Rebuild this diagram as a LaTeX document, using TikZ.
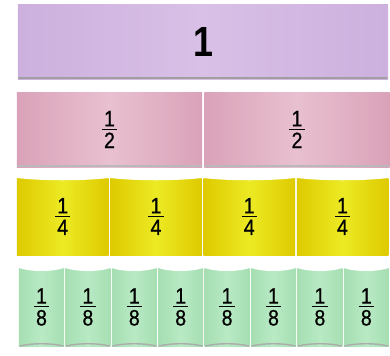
\documentclass[tikz,border=0pt]{standalone}
\usepackage{fontspec}
\usepackage{tikz}
\usetikzlibrary{calc}
\newfontfamily\numfont[FakeStretch=0.85]{Liberation Sans}
\newfontfamily\fracfont[FakeStretch=0.88, FakeBold=0.6]{Liberation Sans}
\definecolor{violetedge}{RGB}{204,176,222}
\definecolor{violetmid}{RGB}{216,192,230}
\definecolor{pinkedge}{RGB}{218,162,184}
\definecolor{pinkmid}{RGB}{232,192,208}
\definecolor{yellowedge}{RGB}{222,202,0}
\definecolor{yellowmid}{RGB}{236,234,36}
\definecolor{greenedge}{RGB}{166,222,178}
\definecolor{greenmid}{RGB}{184,234,196}
\newcommand{\frc}[2]{\vbox{\hbox to 0.46cm{\hss#1\hss}\kern2pt\hrule height 0.9pt\kern2.5pt\hbox to 0.46cm{\hss#2\hss}}}

\begin{document}
\begin{tikzpicture}[
    x=0.03cm, y=-0.03cm,
    cell/.style={inner sep=0pt, outer sep=0pt, shading=axis, text=black,
                 font=\fracfont\fontsize{19}{20}\selectfont},
    shadowline/.style={line width=1.2pt, draw=gray!75, line cap=round}
]
    \useasboundingbox (0,0) rectangle (390,355);

    % Whole strip
    \node[cell, left color=violetedge, right color=violetedge, middle color=violetmid,
          minimum width=11.1cm, minimum height=2.25cm,
          font=\numfont\bfseries\fontsize{36}{37}\selectfont] (whole) at (203,41.5) {1};
    \draw[shadowline] ($(whole.south west)+(1,-1)$) -- ($(whole.south east)+(-1,-1)$);

    % Halves
    \foreach \i in {0,1} {
        \node[cell, left color=pinkedge, right color=pinkedge, middle color=pinkmid,
              minimum width=5.55cm, minimum height=2.25cm] (half\i) at ({109.5+187.5*\i},129.5) {\frc{1}{2}};
        \draw[shadowline, draw=gray!55] ($(half\i.south west)+(1,-1)$) -- ($(half\i.south east)+(-1,-1)$);
    }

    % Quarters
    \foreach \i in {0,...,3} {
        \node[cell, left color=yellowedge, right color=yellowedge, middle color=yellowmid,
              minimum width=2.745cm, minimum height=2.31cm] (quarter\i) at ({62.75+93.25*\i},216.5) {\frc{1}{4}};
        \fill[white] (quarter\i.north west) .. controls ($(quarter\i.north west)+(25,3)$)
            and ($(quarter\i.north east)+(-25,3)$) .. (quarter\i.north east) -- cycle;
    }

    % Eighths
    \foreach \i in {0,...,7} {
        \node[cell, left color=greenedge, right color=greenedge, middle color=greenmid,
              minimum width=1.35cm, minimum height=2.34cm] (eighth\i) at ({41.5+46.4*\i},307) {\frc{1}{8}};
        \fill[white] (eighth\i.north west) .. controls ($(eighth\i.north west)+(12,4)$)
            and ($(eighth\i.north east)+(-12,4)$) .. (eighth\i.north east) -- cycle;
        \draw[shadowline, draw=gray!65] ($(eighth\i.south west)+(1,0)$) .. controls ($(eighth\i.south west)+(12,-3)$)
            and ($(eighth\i.south east)+(-12,-3)$) .. ($(eighth\i.south east)+(-1,0)$);
    }
\end{tikzpicture}
\end{document}
